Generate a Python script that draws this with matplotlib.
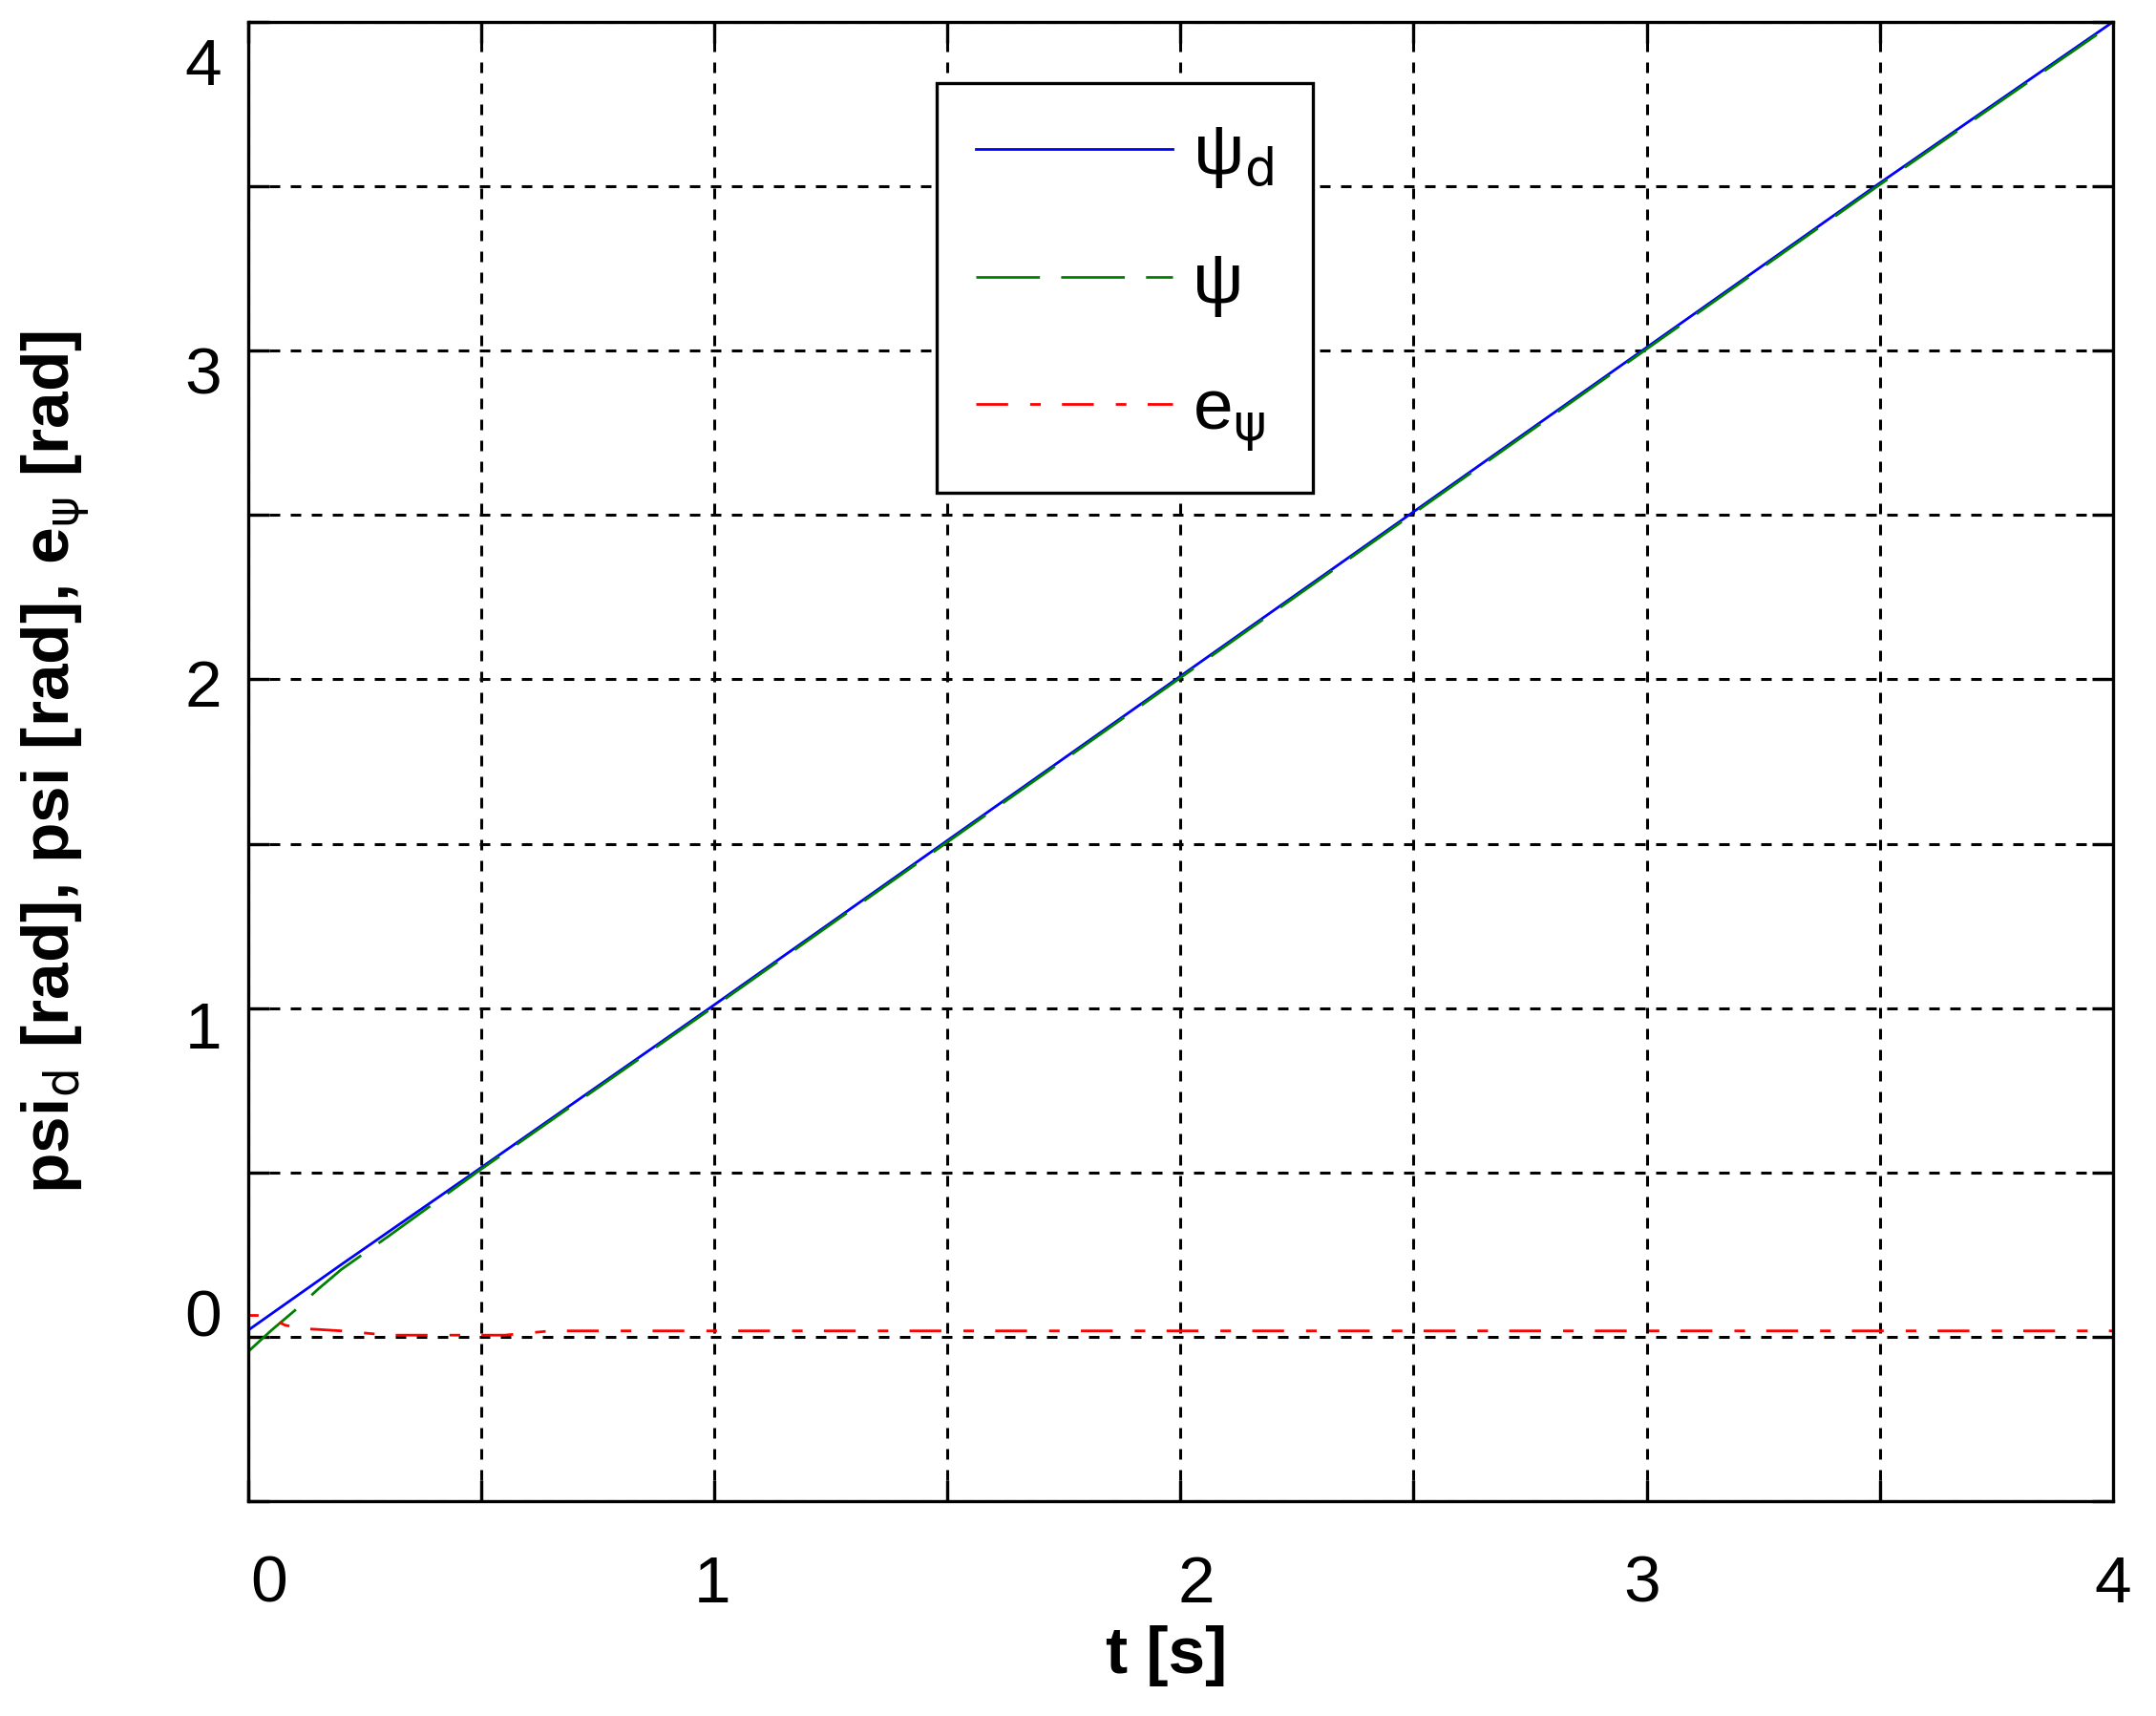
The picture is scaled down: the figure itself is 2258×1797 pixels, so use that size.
import matplotlib
matplotlib.use("Agg")
import matplotlib.pyplot as plt
import numpy as np

plt.rcParams.update({'font.family': ['Liberation Sans', 'DejaVu Sans'],
                     'mathtext.fontset': 'dejavusans'})

# values
t_d = [0.0, 0.05, 0.1, 0.2, 0.5, 1.0, 1.5, 2.0, 2.5, 3.0, 3.5, 4.0]
psi_d = [0.02, 0.07, 0.12, 0.22, 0.515, 1.01, 1.51, 2.01, 2.51, 3.01, 3.51, 4.0]

t_psi = [0.0, 0.05, 0.1, 0.15, 0.2, 0.3, 0.5, 1.0, 1.5, 2.0, 2.5, 3.0, 3.5, 4.0]
psi = [-0.045, 0.02, 0.08, 0.145, 0.205, 0.305, 0.51, 1.005, 1.505, 2.005, 2.505, 3.005, 3.505, 3.995]

t_e = [0.0, 0.0, 0.02, 0.05, 0.08, 0.12, 0.2, 0.3, 0.55, 0.65, 1.0, 2.0, 3.0, 4.0]
e_psi = [0.0, 0.065, 0.065, 0.055, 0.035, 0.025, 0.018, 0.005, 0.005, 0.018, 0.018, 0.018, 0.018, 0.018]

labels = ['ψ$_{\\rm d}$', 'ψ', 'e$_{\\rm ψ}$']

# where the tick numbers sit in the picture (slightly off the grid, like the original)
x_label_pos = [0.044, 0.996, 2.033, 2.99, 4.0]
y_label_pos = [0.075, 0.95, 1.99, 2.94, 3.88]
tick_text = ['0', '1', '2', '3', '4']

fig = plt.figure(figsize=(22.58, 17.97), dpi=100)
ax = fig.add_axes([0.1151, 0.1252, 0.8649, 0.862])

ax.plot(t_d, psi_d, color='blue', linewidth=2, label=labels[0])
ax.plot(t_psi, psi, color='green', linewidth=2, dashes=(24, 8), label=labels[1])
ax.plot(t_e, e_psi, color='red', linewidth=2, dashes=(12, 8.3, 4, 8), label=labels[2])

ax.set_xlim(0, 4)
ax.set_ylim(-0.5, 4)

# grid + small inward ticks every 0.5
ax.set_xticks(np.arange(0, 4.01, 0.5), minor=True)
ax.set_yticks(np.arange(-0.5, 4.01, 0.5), minor=True)
ax.set_xticks(x_label_pos)
ax.set_xticklabels(tick_text)
ax.set_yticks(y_label_pos)
ax.set_yticklabels(tick_text)
ax.tick_params(which='major', length=0, labelsize=50)
ax.tick_params(axis='x', which='major', pad=40)
ax.tick_params(axis='y', which='major', pad=20)
ax.tick_params(which='minor', direction='in', length=16, width=2.4,
               top=True, right=True)
ax.grid(which='minor', color='black', linestyle=(0, (3.6, 3.6)), linewidth=2.2)

for s in ax.spines.values():
    s.set_linewidth(2.4)

ax.set_xlabel('t [s]', fontsize=50, fontweight='bold')
ax.set_ylabel('psi$_{\\rm d}$ [rad], psi [rad], e$_{\\rm ψ}$ [rad]', fontsize=50, fontweight='bold')
ax.xaxis.set_label_coords(0.4926, -0.084)
ax.yaxis.set_label_coords(-0.084, 0.5)

leg = ax.legend(loc='upper left', bbox_to_anchor=(0.369, 0.959), fontsize=54,
                handlelength=2.75, handletextpad=0.28, labelspacing=0.85,
                borderpad=0.55, borderaxespad=0, fancybox=False, framealpha=1)
leg.get_frame().set_edgecolor('black')
leg.get_frame().set_linewidth(2.4)

fig.savefig('out.png', dpi=100)
